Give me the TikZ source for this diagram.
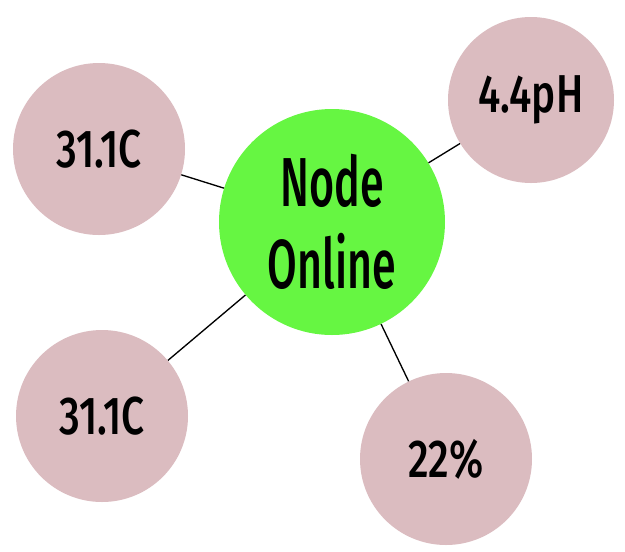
\documentclass[tikz,border=0pt]{standalone}
\usepackage{xcolor}
\usepackage{fontspec}
\usepackage{tikz}
\usetikzlibrary{positioning}

\newfontfamily\hubfont[FakeStretch=0.62, UprightFont={* Medium}]{Fira Sans}
\newfontfamily\sensorfont[FakeStretch=0.76, UprightFont={* Medium}]{Fira Sans}
\definecolor{hubgreen}{RGB}{102,246,66}
\definecolor{sensorpink}{RGB}{219,188,192}

\tikzset{
  hub/.style={circle, fill=hubgreen, minimum size=226*0.75pt, inner sep=0pt,
    align=center, font=\hubfont\fontsize{52}{62}\selectfont},
  sensor/.style={circle, fill=sensorpink, minimum size=172*0.75pt, inner sep=0pt,
    font=\sensorfont\fontsize{40}{48}\selectfont},
  link/.style={draw=black, line width=1pt}
}

\begin{document}
\begin{tikzpicture}[x=0.75pt, y=-0.75pt]
  \useasboundingbox (0,0) rectangle (625,551);
  \node[hub] (online) at (332,222) {Node\\Online};
  \node[sensor] (tempa) at (99,149) {31.1C};
  \node[sensor, minimum size=166*0.75pt] (ph) at (531,100) {4.4pH};
  \node[sensor] (tempb) at (102,416) {31.1C};
  \node[sensor] (hum) at (446,459) {22\%};
  \draw[link] (online) -- (tempa);
  \draw[link] (online) -- (ph);
  \draw[link] (online) -- (tempb);
  \draw[link] (online) -- (hum);
\end{tikzpicture}
\end{document}
